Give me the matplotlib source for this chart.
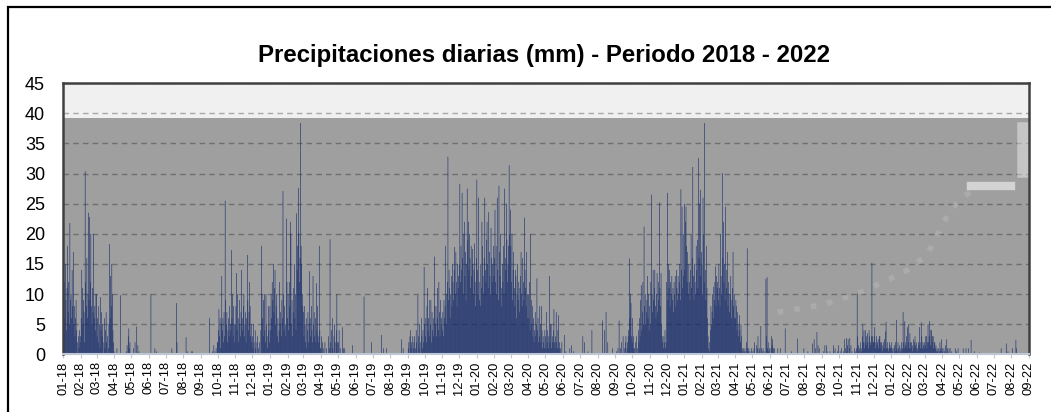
import matplotlib
matplotlib.use("Agg")
import matplotlib.pyplot as plt
import matplotlib.dates as mdates
import pandas as pd

# daily rain (mm), one list per month
rain_2018 = [
    [21.5, 8, 12, 6, 15, 9, 4, 11, 18, 7, 12, 5, 21.8, 9, 10, 6, 14, 8, 17, 5, 8, 3, 6, 9, 4, 2, 0, 3, 1, 4, 2],
    [3, 6, 14, 11, 5, 9, 7, 2, 30.4, 12, 8, 16, 6, 10, 23.5, 9, 22.8, 12, 20, 8, 5, 11, 7, 20, 6, 8, 4, 10],
    [10, 3, 6, 2, 8, 5, 1, 9.5, 4, 7, 3, 5, 0, 2, 6, 1, 4, 7, 2, 3, 0, 1, 5, 18.3, 6, 13, 8, 15, 10, 4, 2],
    [0.5, 0, 0, 0, 0, 1, 0, 0, 0, 0, 0, 9.8, 0, 0, 0, 0, 0, 0, 0, 0, 0, 0, 0.5, 1.5, 0, 3, 4.3, 1, 2, 0],
    [0, 0, 0, 0, 1, 0, 0, 2, 0, 0, 4.6, 0, 1.5, 0, 0.5, 0, 0, 0, 0, 0, 0, 0, 0, 0, 0, 0, 0, 0, 0, 0, 0],
    [0, 0, 0, 0, 10, 0, 0, 0, 0, 0, 0, 1, 0, 0, 0.5, 0, 0, 0, 0, 0, 0, 0, 0, 0, 0, 0, 0, 0, 0, 0],
    [0, 0, 0, 0, 0, 0, 0, 0, 0, 0, 0, 1, 0, 0, 0, 0, 0, 0, 0, 8.5, 2, 0, 0, 0, 0, 0, 0, 0, 0, 0, 0],
    [0, 0, 0, 0, 0, 2.8, 0, 0, 0.5, 0, 0, 0, 0, 0, 0.5, 0, 0.5, 0, 0, 0, 0, 0, 0, 0, 0, 0, 0, 0, 0, 0, 0],
    [0, 0, 0, 0, 0, 0, 0, 0, 0, 0, 0, 0, 0, 0, 0, 6, 0, 0, 0, 0, 0, 0.5, 0, 1.5, 0, 0.5, 0, 1, 0, 2],
    [2, 4, 7.5, 3, 6, 1, 5, 13, 4, 6, 2, 7, 3, 25.5, 9, 5, 7, 2, 4, 6, 3, 8, 5, 4, 17.3, 6, 10, 3, 8, 5, 2],
    [5, 8, 13.5, 4, 10, 6, 2, 9, 5, 3, 7, 14, 6, 4, 8, 10, 3, 5, 7, 2, 6, 16.5, 9, 4, 7, 12, 8, 3, 5, 2],
    [3, 1, 5, 2, 0, 4, 1, 0, 2, 3, 0, 1, 0, 2, 0, 4, 18, 10, 6, 3, 9, 10, 4, 2, 10, 5, 3, 1, 8, 4, 2],
]
rain_2019 = [
    [8, 4, 10, 6, 12, 9, 15, 7, 11, 14, 5, 8, 10, 3, 6, 2, 4, 12, 5, 7, 3, 9, 6, 27.1, 10, 4, 8, 5, 3, 22.5, 12],
    [6, 10, 4, 12, 8, 22, 20, 5, 9, 3, 7, 11, 15, 6, 10, 4, 23.4, 14, 18, 27.6, 20, 12, 16, 38.4, 18, 15, 10, 8],
    [7, 3, 8, 5, 2, 6, 1, 4, 7, 2, 5, 13.8, 6, 3, 8, 4, 2, 13, 5, 7, 3, 6, 2, 11.8, 4, 8, 3, 2, 18, 4, 1],
    [1, 3, 0, 2, 0, 1, 0, 2, 0, 0, 1, 0, 0, 3, 0, 1, 19.1, 2, 0, 4, 6, 1, 0, 3, 5, 2, 0, 4, 10, 2],
    [0, 2, 4, 0, 1, 0, 0, 0, 4.5, 0, 1, 0, 1, 0, 0, 0, 0, 0, 0, 0, 0, 0, 0, 0, 0, 0, 1.5, 0, 0, 0, 0],
    [0, 0, 0, 0, 0, 0, 0, 0, 0, 0, 0, 0, 0, 0, 0, 9.6, 0, 0, 0, 0, 0, 0, 0, 0, 0, 0, 0, 0, 2, 0],
    [0, 0, 0, 0, 0, 0, 0, 0, 0, 0, 0, 0, 0, 0, 0, 0, 3.2, 0, 0, 1, 0, 0, 0, 0, 0, 1, 0, 0, 0, 0, 0],
    [0, 0, 0, 0, 0, 0, 0, 0, 0, 0, 0, 0, 0, 0, 0, 0, 0, 0, 0, 0, 2.5, 0, 0, 1, 0, 0, 0, 0, 0, 0, 0],
    [0, 1, 2, 0, 3, 4, 1, 2, 0, 3, 1, 2, 3, 0, 1, 4, 2, 0, 9.8, 3, 1, 5, 2, 0, 6, 3, 1, 4, 2, 14.5],
    [5, 3, 6, 2, 8, 11, 4, 6, 3, 9, 5, 9, 2, 7, 4, 6, 3, 16.2, 8, 5, 8, 3, 6, 11, 4, 12, 7, 3, 9, 5, 6],
    [4, 7, 3, 9, 6, 8, 18, 5, 10, 12, 32.8, 9, 14, 11, 6, 10, 13, 8, 15, 12, 9, 14, 17.8, 10, 17, 12, 8, 15, 11, 13],
    [15, 28.3, 12, 18, 14, 26.8, 16, 10, 20, 22, 13, 17, 9, 15, 27.5, 19, 22, 14, 20, 16, 11, 18, 13, 17.5, 15, 10, 14, 18.4, 12, 8, 16],
]
rain_2020 = [
    [29, 14, 10, 26, 12, 9, 8, 15, 11, 22, 18, 13, 10, 16, 26, 14, 12, 19, 22, 15, 11, 23.6, 17, 13, 10, 21, 16, 12, 15, 18, 13],
    [16, 24, 12, 18, 10, 26, 14, 9, 28, 17, 13, 20, 11, 8, 15, 12, 18, 10, 27.5, 16, 14, 25, 19, 12, 15, 18, 31.4, 20, 24],
    [18, 12, 20, 9, 14, 17, 11, 8, 14, 13, 6, 10, 15, 9, 12, 7, 11, 13, 17, 10, 8, 16, 12, 9, 22.7, 14, 11, 8, 17, 10, 6],
    [10, 6, 12, 4, 20, 9, 5, 8, 3, 6, 2, 4, 7, 3, 5, 12.6, 4, 6, 2, 3, 8, 5, 2, 8, 4, 1, 3, 2, 1, 4],
    [3, 1, 7, 2, 4, 1, 3, 13, 2, 5, 5, 1, 3, 2, 4, 7.5, 2, 1, 3, 7, 2, 1, 4, 6.5, 1, 2, 0, 1, 0, 2, 0],
    [0, 0, 0, 3.2, 0, 0.5, 0, 0, 0, 0, 0, 0, 1, 0, 0, 1.5, 0, 0, 0, 0.5, 0, 0, 0, 0, 0, 0, 0, 0, 0, 0],
    [0, 0, 0, 0, 0, 3, 0, 0, 2, 0, 0, 0, 0, 0, 0.5, 0, 0, 0, 0, 0, 0, 4, 0, 0, 0, 0, 0, 0, 0, 0, 0],
    [0, 0, 0, 0, 0, 0, 0, 0, 0, 5.6, 0, 0, 4, 0, 0, 7, 0, 0, 2, 0, 0, 0, 0, 0, 0, 0, 1, 0, 0, 0, 0],
    [0, 0, 0.5, 0, 0, 1, 0, 5.6, 0, 1, 0, 2, 0, 0, 3, 0, 1, 0, 2, 3, 0, 1, 2, 3, 4, 15.9, 6, 10, 8.5, 3],
    [2, 6, 3, 1, 1, 0, 2, 0, 3, 1, 0, 4, 2, 6, 3, 9, 11.5, 4, 7, 12, 5, 21.2, 8, 10, 5, 7, 9, 13, 6, 10, 4],
    [8, 5, 12, 26.5, 10, 7, 14, 9, 11, 14, 8, 6, 10, 13.5, 7, 12, 9, 25.2, 11, 8, 13.5, 5, 3, 2, 1, 3, 2, 4, 1, 2],
    [12, 26.8, 9, 15, 11, 14, 8, 12, 10, 13, 9, 11, 7, 12, 10, 13, 8, 14, 11, 9, 13, 10, 12, 15, 9, 27.4, 14, 24.5, 11, 20, 13],
]
rain_2021 = [
    [25, 14, 22, 24.5, 18, 12, 17, 10, 15, 12, 9, 14, 20, 11, 16, 31.1, 13, 9, 15, 12, 10, 18, 14, 19, 11, 32.6, 16, 25, 13, 27.3, 17],
    [15, 10, 26, 20, 12, 38.4, 14, 9, 18, 11, 6, 3, 1, 0.5, 2, 4, 8, 5, 7, 10, 6, 11.2, 9, 12, 14.6, 8, 13, 11],
    [12, 9, 15, 11, 8, 20, 13, 10, 30.1, 16, 22, 12, 15, 9, 24.5, 11, 14, 17, 8, 12, 10, 7, 10, 13, 6, 9, 11, 17, 8, 10, 6],
    [6, 9, 8, 4, 7, 5, 3, 6.5, 4, 2, 5, 3, 1, 0.5, 1, 0, 0.5, 1, 0, 0.5, 2, 17.6, 1, 0.5, 1, 0, 0.5, 0, 0, 1],
    [0, 0.5, 0, 1, 2, 0, 0, 1.5, 0, 1, 3, 0, 0.5, 1, 0, 4.7, 1, 0, 0.5, 1, 0, 0, 0.5, 0, 12.5, 3, 12.8, 1, 2, 0.5, 1],
    [0, 0, 1, 3, 1.5, 2.5, 1, 0, 1, 0, 0, 0, 0, 0, 1, 0, 0, 0, 0, 1, 0, 0, 0, 0, 0, 0, 0, 4.3, 0, 0],
    [0, 0, 0, 0, 0, 0, 0, 0, 0.5, 0, 0, 0, 0, 0, 0, 0, 0, 0, 0, 2.6, 0, 0, 0, 0, 0, 0, 0, 0, 0, 0, 1],
    [0, 0, 0, 0, 0, 0, 0.5, 0, 0, 0, 0, 0, 0, 0, 1.8, 0, 0, 2.5, 0, 1, 0, 0, 3.7, 0, 1.5, 0, 1, 0, 0, 0, 0],
    [0, 0, 0.5, 0, 0, 1.5, 0, 0, 1.5, 0.5, 0, 0, 0, 0, 0.5, 0, 0, 0, 0, 0, 1.5, 0.5, 0, 1, 0, 0, 0, 0.5, 0, 1.5],
    [0, 0, 0.5, 0, 1, 0, 0, 0, 0.5, 0, 2.5, 1, 0, 2.7, 0.5, 1.5, 2.5, 0, 1, 2.7, 0, 1.5, 0, 0.5, 0, 0, 0, 1, 0, 0.5, 0],
    [1, 10.1, 3, 1.5, 0.5, 1, 0, 2, 1, 0.5, 3, 5, 2, 4, 1, 2, 4, 3, 1.5, 3.5, 2, 1, 4, 3, 2, 1.5, 3, 15.2, 3, 2],
    [2, 3, 4.5, 1, 2, 3, 1.5, 2, 2.5, 1, 3, 3, 2, 1, 2, 1.5, 0.5, 2, 1, 2.5, 1, 3.8, 5.4, 1, 2, 1, 0.5, 1, 2, 1.5, 1],
]
rain_2022 = [
    [1, 2, 0.5, 1, 0, 1, 1.5, 0.5, 2, 5.7, 1, 0.5, 2, 1, 0, 1.5, 0.5, 1, 2, 0.5, 1, 7, 2, 1, 5.5, 1.5, 2, 3, 1, 4.5, 2],
    [5, 1, 3.5, 2, 1, 2, 1.5, 0.5, 2.5, 1, 2, 3, 1.5, 1, 2, 0.5, 1, 2, 1.5, 4.5, 2, 1, 5.3, 3, 1, 2, 1.5, 1],
    [2, 1.5, 3, 3, 1, 2, 5, 2, 3, 5.5, 1.5, 4, 4, 2, 3, 3, 1, 2, 2, 1, 1.5, 0.5, 1, 0.5, 1, 0, 0.5, 2, 1, 0.5, 2.5],
    [1, 0.5, 0, 1, 0.5, 0, 1.5, 0, 2.5, 1, 0.5, 0, 1, 0, 1, 0, 0, 0.5, 0, 0, 0, 0, 0, 1, 0, 0.5, 0, 0, 1, 0],
    [0, 0, 0, 0, 0, 0, 0, 1, 0, 0, 0, 0, 1, 0, 0, 0, 1, 0, 0, 0, 0, 2.4, 0, 0, 0, 0, 0, 0.5, 0, 0, 0],
    [0, 0, 0, 0, 0, 0.3, 0, 0, 0, 0, 0, 0, 0, 0, 0, 0, 0, 0, 0, 0, 0, 0, 0, 0, 0, 0, 0, 0, 0, 0],
    [0, 0, 0, 0, 0, 0, 0, 0, 0, 0, 0, 0, 0, 1, 0, 0, 0, 0, 0, 0, 0, 0, 1.8, 0, 0, 0.5, 0, 0, 0, 0, 0],
    [0, 0, 1, 0, 0, 0, 0, 0, 2.4, 1, 0, 0, 0, 0, 0, 0, 0, 0, 0, 0, 0, 0, 0, 0, 0, 0, 0, 0, 0, 0, 0],
]
years = [2018, 2019, 2020, 2021, 2022]

# faint white trail / boxes visible on the right of the original picture
trail_dates = ["2021-06-15", "2021-09-01", "2021-11-01", "2021-12-25", "2022-01-30",
               "2022-03-05", "2022-03-25", "2022-04-10", "2022-04-30", "2022-05-25"]
trail_vals = [7, 8.2, 10, 12.3, 14, 16.5, 20, 23, 25.5, 27.3]

frames = []
for year, months in zip(years, [rain_2018, rain_2019, rain_2020, rain_2021, rain_2022]):
    for m, vals in enumerate(months, start=1):
        idx = pd.date_range(f"{year}-{m:02d}-01", periods=len(vals), freq="D")
        frames.append(pd.Series(vals, index=idx))
rain = pd.concat(frames)

fig = plt.figure(figsize=(10.51, 4.12), dpi=100)
ax = fig.add_axes([0.060, 0.140, 0.919, 0.658])
ax.set_facecolor("#F0F0F0")

ax.axhspan(0, 39.2, color="#9F9F9F", zorder=0.1, lw=0)
ax.set_axisbelow(True)
ax.yaxis.grid(True, linestyle=(0, (4, 3)), color="black", alpha=0.3, lw=1)

ax.bar(rain.index, rain.values, width=1.0, color="#13296A", linewidth=0, zorder=2, snap=False)

# trail artefact
ax.plot(pd.to_datetime(trail_dates), trail_vals, color="white", lw=4, alpha=0.13,
        linestyle=(0, (1, 2)), zorder=1.5, solid_capstyle="round")
ax.plot(pd.to_datetime(["2022-05-22", "2022-08-01"]), [27.9, 27.9], color="white",
        lw=6, alpha=0.55, zorder=1.5)
ax.plot(pd.to_datetime(["2022-08-22", "2022-08-22"]), [30.5, 37.5], color="white",
        lw=9, alpha=0.4, zorder=1.5)

ax.set_xlim(pd.Timestamp("2018-01-01"), pd.Timestamp("2022-09-01"))
ax.set_ylim(0, 45)
ax.set_yticks(range(0, 46, 5))
ax.xaxis.set_major_locator(mdates.MonthLocator())
ax.xaxis.set_major_formatter(mdates.DateFormatter("%m-%y"))
ax.tick_params(axis="x", rotation=90, labelsize=9.3, length=3, color="#C0C8D4", pad=2)
ax.tick_params(axis="y", labelsize=13, length=0, pad=13)
for lab in ax.get_xticklabels() + ax.get_yticklabels():
    lab.set_fontfamily("Liberation Sans")

for side in ["top", "right", "left"]:
    ax.spines[side].set_color("#404040")
    ax.spines[side].set_linewidth(1.8)
ax.spines["bottom"].set_color("#BCC6D4")
ax.spines["bottom"].set_linewidth(1.5)

fig.text(0.518, 0.866, "Precipitaciones diarias (mm) - Periodo 2018 - 2022",
         ha="center", va="center", fontsize=17.3, fontweight="bold", family="Liberation Sans")

# outer frame of the chart box
fig.patches.append(plt.Rectangle((7.5 / 1051, -0.1), 1.2, 1.1 - 7.5 / 412, transform=fig.transFigure,
                                 fill=False, edgecolor="black", lw=1.6))

fig.savefig("out.png", dpi=100)
